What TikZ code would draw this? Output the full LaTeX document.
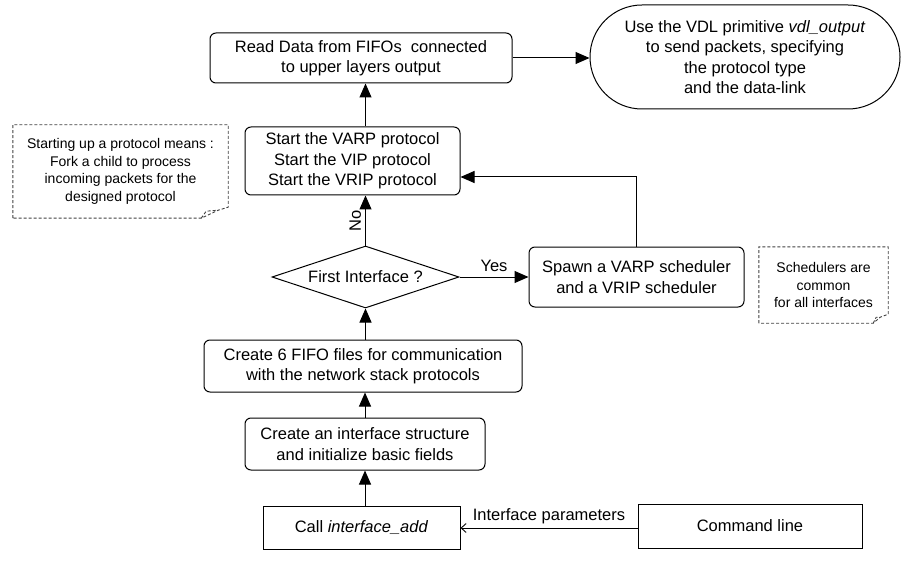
\documentclass[tikz,border=0pt]{standalone}
\usepackage{fontspec}
\setmainfont{Liberation Sans}
\usetikzlibrary{arrows.meta,shapes.geometric,shapes.misc}
\begin{document}
\begin{tikzpicture}[x=1pt,y=-1pt,
  every node/.style={inner sep=0pt,align=center},
  mainfont/.style={font=\fontsize{16.5}{20.5}\selectfont},
  notefont/.style={font=\fontsize{14}{17.5}\selectfont},
  rbox/.style={draw,line width=1pt,rounded corners=6pt,mainfont},
  sbox/.style={draw,line width=1pt,mainfont},
  stad/.style={draw,line width=1pt,rounded rectangle,mainfont},
  decis/.style={draw,line width=1pt,diamond,mainfont},
  conn/.style={line width=1pt,-{Triangle[length=14pt,width=12pt]}},
  openconn/.style={line width=0.9pt,-{Straight Barb[length=5pt,width=9pt,line width=0.9pt]}},
  notebox/.style={draw,line width=0.9pt,dash pattern=on 3pt off 2pt,black!75},
  lbl/.style={mainfont}
]
\useasboundingbox (0,0) rectangle (909,561);

\node[rbox,minimum width=302pt,minimum height=50pt] (read) at (361,58)
  {Read Data from FIFOs\ \ connected\\to upper layers output};
\node[stad,minimum width=310pt,minimum height=104pt] (out) at (745,57)
  {Use the VDL primitive \textit{vdl\_output}\\to send packets, specifying\\the protocol type\\and the data-link};
\node[rbox,minimum width=215pt,minimum height=68pt] (start) at (352.5,161)
  {Start the VARP protocol\\Start the VIP protocol\\Start the VRIP protocol};
\node[decis,minimum width=187pt,minimum height=62pt,shape aspect=3] (dia) at (365.5,277)
  {First Interface ?};
\node[rbox,minimum width=215pt,minimum height=60pt] (spawn) at (636.5,277)
  {Spawn a VARP scheduler\\and a VRIP scheduler};
\node[rbox,minimum width=318pt,minimum height=52pt] (fifo) at (363,366)
  {Create 6 FIFO files for communication\\with the network stack protocols};
\node[rbox,minimum width=240pt,minimum height=52pt] (struct) at (365,444)
  {Create an interface structure\\and initialize basic fields};
\node[sbox,minimum width=197pt,minimum height=43pt] (call) at (361.5,528)
  {Call \textit{interface\_add}};
\node[sbox,minimum width=224pt,minimum height=44pt] (cmd) at (750,526)
  {Command line};

% notes
\node[notefont,minimum width=215pt,minimum height=93pt] (n1) at (120.5,171.5)
  {Starting up a protocol means :\\Fork a child to process\\incoming packets for the\\designed protocol};
\node[notefont,minimum width=129pt,minimum height=76pt] (n2) at (823.5,285)
  {Schedulers are\\common\\for all interfaces};
\draw[notebox] (n1.south west) -- (n1.north west) -- (n1.north east)
  -- ([yshift=11pt]n1.south east) -- ([xshift=-10pt,yshift=8pt]n1.south east)
  -- ([xshift=-27pt]n1.south east) -- cycle;
\draw[notebox] ([xshift=-27pt]n1.south east) -- ([xshift=-22pt,yshift=7pt]n1.south east)
  -- ([xshift=-10pt,yshift=8pt]n1.south east);
\draw[notebox] (n2.south west) -- (n2.north west) -- (n2.north east)
  -- ([yshift=9pt]n2.south east) -- ([xshift=-8pt,yshift=6pt]n2.south east)
  -- ([xshift=-15pt]n2.south east) -- cycle;
\draw[notebox] ([xshift=-15pt]n2.south east) -- ([xshift=-12pt,yshift=6pt]n2.south east)
  -- ([xshift=-8pt,yshift=6pt]n2.south east);

% connectors
\draw[conn] (read.east) -- (read.east -| out.west);
\draw[conn] (dia.north |- start.north) -- (dia.north |- read.south);
\draw[conn] (dia.north) -- (dia.north |- start.south)
  node[midway,rotate=90,anchor=south,yshift=4pt,lbl] {No};
\draw[conn] (dia.east) -- (spawn.west)
  node[midway,above=5pt,lbl] {Yes};
\draw[conn] (spawn.north) |- ([yshift=-16pt]start.east);
\draw[conn] (dia.south |- fifo.north) -- (dia.south);
\draw[conn] (struct.north) -- (struct.north |- fifo.south);
\draw[conn] (struct.south |- call.north) -- (struct.south);
\draw[openconn] (cmd.west |- call.east) -- (call.east)
  node[midway,above=4pt,lbl] {Interface parameters};
\end{tikzpicture}
\end{document}
